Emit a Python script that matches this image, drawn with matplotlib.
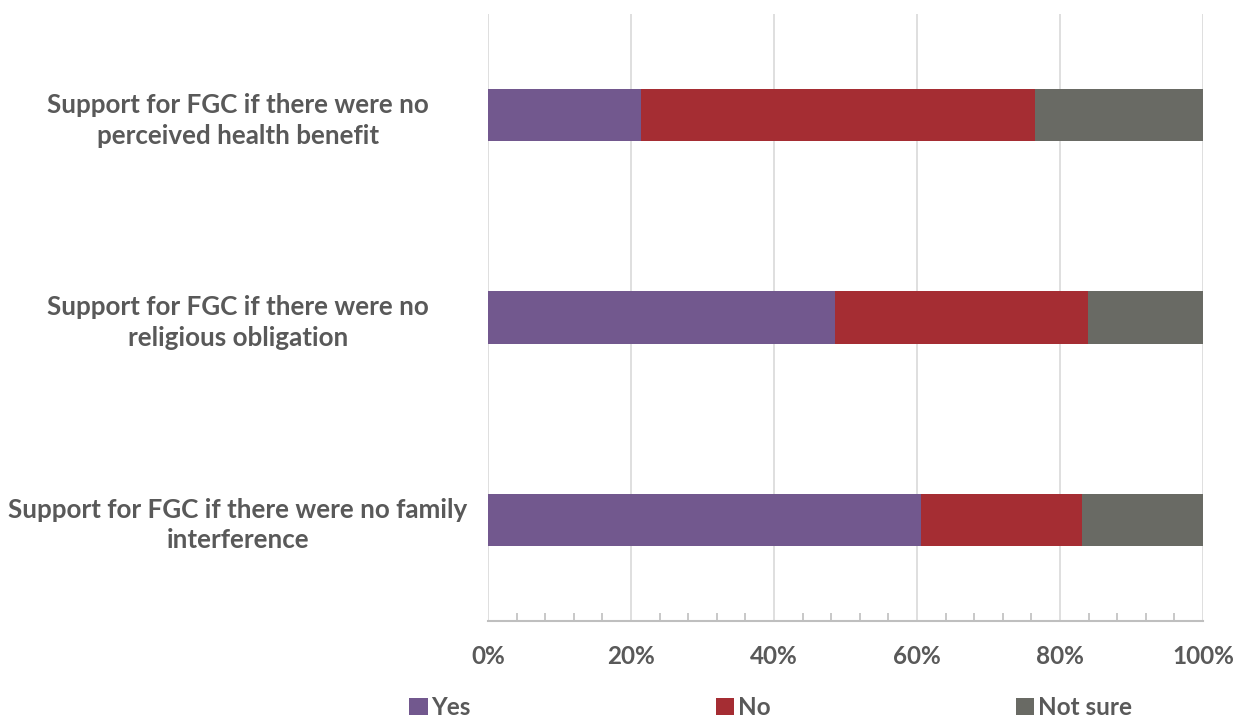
import numpy as np
from matplotlib import pyplot as plt
from matplotlib.ticker import MultipleLocator, PercentFormatter

plt.rcParams['font.family'] = ['Lato', 'DejaVu Sans']
plt.rcParams['font.weight'] = 'bold'

categories = ['Support for FGC if there were no\nperceived health benefit',
              'Support for FGC if there were no\nreligious obligation',
              'Support for FGC if there were no family\ninterference']
yes = [21.4, 48.5, 60.6]
no = [55.1, 35.4, 22.5]
not_sure = [23.5, 16.1, 16.9]

series = [('Yes', yes, '#72588E'), ('No', no, '#A52D33'), ('Not sure', not_sure, '#696A64')]
text_col = '#595959'
fs = 17.5

fig = plt.figure(figsize=(12.47, 7.22), dpi=100)
ax = fig.add_axes([0.3913, 0.1399, 0.5734, 0.8407])

y = np.arange(len(categories))
left = np.zeros(len(categories))
for name, vals, col in series:
    ax.barh(y, vals, left=left, height=0.26, color=col, label=name, zorder=3)
    left += np.array(vals)

ax.set_xlim(0, 100)
ax.set_ylim(2.5, -0.5)
ax.xaxis.set_major_locator(MultipleLocator(20))
ax.xaxis.set_minor_locator(MultipleLocator(4))
ax.xaxis.set_major_formatter(PercentFormatter(decimals=0))
ax.grid(axis='x', which='major', color='#D9D9D9', linewidth=1.2, zorder=0)

for s in ['top', 'right', 'left']:
    ax.spines[s].set_visible(False)
ax.spines['bottom'].set_color('#BFBFBF')
ax.spines['bottom'].set_linewidth(1.5)

ax.tick_params(axis='x', which='major', length=0, pad=17, labelsize=fs, labelcolor=text_col)
ax.tick_params(axis='x', which='minor', direction='in', length=6, color='#BFBFBF', width=1.2)
ax.set_yticks(y)
ax.set_yticklabels(categories, ha='center', multialignment='center')
ax.tick_params(axis='y', length=0, pad=180, labelsize=18.7, labelcolor=text_col)
for lbl in ax.get_yticklabels():
    lbl.set_linespacing(1.32)

fig.legend(loc='lower center', bbox_to_anchor=(0.618, -0.026), ncol=3, frameon=False,
           fontsize=fs, labelcolor=text_col, handlelength=0.75, handleheight=0.75,
           handletextpad=0.15, columnspacing=10.1)

fig.savefig('out.png', dpi=100)
